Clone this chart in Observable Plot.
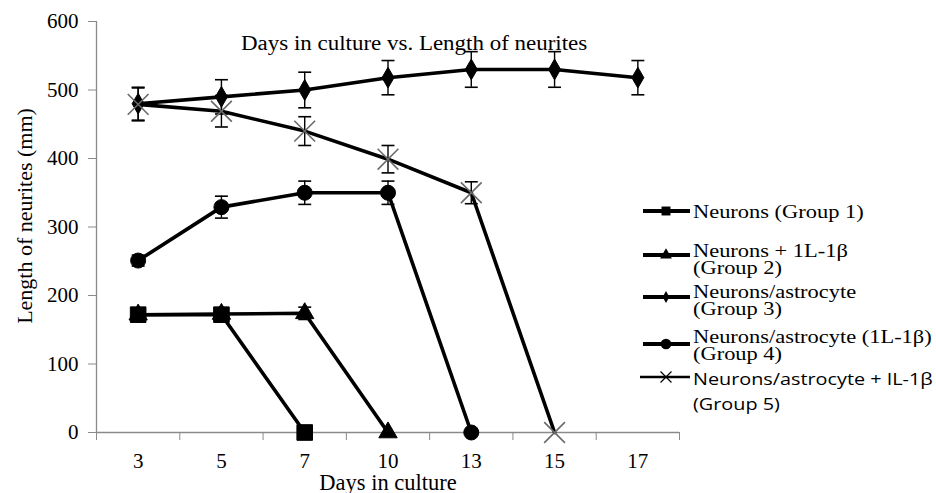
<!DOCTYPE html>
<html>
<head>
<meta charset="utf-8">
<script src="https://cdn.jsdelivr.net/npm/d3@7"></script>
<script src="https://cdn.jsdelivr.net/npm/@observablehq/plot@0.6"></script>
<style>
  html, body { margin: 0; padding: 0; background: #fff; }
  #wrap { position: relative; width: 936px; height: 493px; overflow: hidden; font-family: 'Liberation Serif', 'Times New Roman', serif; }
  #title { position: absolute; left: 241px; top: 31px; font-family: 'Liberation Serif', serif; font-size: 20.5px; line-height: 24px; color: #000; white-space: nowrap; transform: scaleX(1.12); transform-origin: left center; }
  .lg { position: absolute; left: 640px; display: flex; align-items: flex-start; color: #000; }
  .lg svg { flex: none; }
  .lg .t { font-family: 'Liberation Serif', serif; font-size: 19.5px; line-height: 17px; white-space: nowrap; margin-left: 1px; transform: scaleX(1.15); transform-origin: left top; }
  .lg .s { font-family: 'Open Sans', 'DejaVu Sans', sans-serif; font-size: 16.5px; line-height: 25px; transform: scaleX(1.2); }
</style>
</head>
<body>
<div id="wrap"></div>
<script>
const days = ["3", "5", "7", "10", "13", "15", "17"];
const seriesNames = [
  "Neurons (Group 1)",
  "Neurons + 1L-1β (Group 2)",
  "Neurons/astrocyte (Group 3)",
  "Neurons/astrocyte (1L-1β) (Group 4)",
  "Neurons/astrocyte + IL-1β (Group 5)"
];
const group1 = [172, 172, 0, null, null, null, null];
const group2 = [172, 173, 174, 0, null, null, null];
const group3 = [480, 490, 500, 518, 530, 530, 518];
const group4 = [251, 329, 350, 350, 0, null, null];
const group5 = [479, 469, 440, 399, 350, 0, null];
const err1 = [0, 0, 0, 0, 0, 0, 0];
const err2 = [0, 0, 9, 0, 0, 0, 0];
const err3 = [24, 25, 26, 25, 26, 26, 25];
const err4 = [8, 16, 17, 17, 0, 0, 0];
const err5 = [24, 23, 21, 20, 16, 0, 0];
const yTicks = [0, 100, 200, 300, 400, 500, 600];

const values = [group1, group2, group3, group4, group5];
const errs = [err1, err2, err3, err4, err5];
const symbols = ["square", "triangle", "diamond", "circle", "times"];
const radii = [8.8, 6.8, 6.3, 7.5, 9.5];
const drawOrder = [1, 0, 3, 2, 4];

const rows = [];
values.forEach((vals, s) => {
  vals.forEach((v, i) => {
    if (v != null) rows.push({series: seriesNames[s], s, x: i + 0.5, y: v, err: errs[s][i]});
  });
});
const errRows = rows.filter(d => d.err > 0);

const capSymbol = {
  draw(context, size) {
    const w = Math.sqrt(size) / 2;
    context.moveTo(-w, 0);
    context.lineTo(w, 0);
  }
};

const dotMarks = drawOrder.map(s => {
  const sym = symbols[s];
  const data = rows.filter(d => d.s === s);
  if (sym === "times") {
    return Plot.dot(data, {x: "x", y: "y", symbol: sym, r: radii[s], stroke: "#6a6a6a", strokeWidth: 1.6, fill: "none"});
  }
  return Plot.dot(data, {x: "x", y: "y", symbol: sym, r: radii[s], fill: "#000", stroke: "#000", strokeWidth: 1});
});

const FONT = "'Liberation Serif', 'Times New Roman', serif";

const chart = Plot.plot({
  width: 936,
  height: 493,
  marginLeft: 96,
  marginRight: 257,
  marginTop: 21,
  marginBottom: 61,
  style: {fontFamily: FONT, fontSize: "20px", color: "#000", background: "#fff"},
  x: {type: "linear", domain: [0, days.length]},
  y: {domain: [0, 600]},
  marks: [
    Plot.ruleX([0], {stroke: "#8a8a8a", strokeWidth: 1.3}),
    Plot.ruleY([0], {stroke: "#8a8a8a", strokeWidth: 1.3}),
    Plot.axisY({ticks: yTicks, tickSize: 8, tickPadding: 10, stroke: "#8a8a8a", tickFormat: d => String(d), label: null, fontSize: 21, fontFamily: FONT}),
    Plot.axisX({ticks: d3.range(0, days.length + 1), tickSize: 8, stroke: "#8a8a8a", tickFormat: () => "", label: null}),
    Plot.axisX({ticks: days.map((d, i) => i + 0.5), tickSize: 0, tickPadding: 21, tickFormat: v => days[Math.round(v - 0.5)], label: null, fontSize: 21, fontFamily: FONT}),
    Plot.text(["Days in culture"], {frameAnchor: "bottom", dy: 57, fontSize: 22.5, fontFamily: FONT, lineAnchor: "bottom", text: d => d}),
    Plot.text(["Length of neurites (mm)"], {frameAnchor: "left", textAnchor: "middle", dx: -72, dy: -11, rotate: -90, fontSize: 22, fontFamily: FONT, text: d => d}),
    Plot.ruleX(errRows, {x: "x", y1: d => d.y - d.err, y2: d => d.y + d.err, stroke: "#000", strokeWidth: 1.4}),
    Plot.dot(errRows, {x: "x", y: d => d.y - d.err, symbol: capSymbol, r: 7.3, stroke: "#000", strokeWidth: 1.6, fill: "none"}),
    Plot.dot(errRows, {x: "x", y: d => d.y + d.err, symbol: capSymbol, r: 7.3, stroke: "#000", strokeWidth: 1.6, fill: "none"}),
    Plot.line(rows, {x: "x", y: "y", z: "series", stroke: "#000", strokeWidth: 3.6}),
    ...dotMarks
  ]
});

const wrap = document.getElementById("wrap");
wrap.appendChild(chart);

const title = document.createElement("div");
title.id = "title";
title.textContent = "Days in culture vs. Length of neurites";
wrap.appendChild(title);

// Legend
const legendLines = [
  ["Neurons (Group 1)"],
  ["Neurons + 1L-1β", "(Group 2)"],
  ["Neurons/astrocyte", "(Group 3)"],
  ["Neurons/astrocyte (1L-1β)", "(Group 4)"],
  ["Neurons/astrocyte + IL-1β", "(Group 5)"]
];
const legendTop = [203, 242, 283, 328, 366];
const lineY = [8, 13, 14, 16, 11];
legendLines.forEach((lines, s) => {
  const div = document.createElement("div");
  div.className = "lg";
  div.style.top = legendTop[s] + "px";
  const sw = d3.create("svg").attr("width", 52).attr("height", 30);
  const cy = lineY[s];
  sw.append("line").attr("x1", s === 4 ? 0 : 3).attr("x2", 50).attr("y1", cy).attr("y2", cy)
    .attr("stroke", "#000").attr("stroke-width", s === 4 ? 2.6 : 4);
  const sizes = [80, 60, 40, 90, 80];
  const sym = [d3.symbolSquare, d3.symbolTriangle, d3.symbolDiamond, d3.symbolCircle, d3.symbolTimes][s];
  const p = sw.append("path").attr("d", d3.symbol(sym, sizes[s])()).attr("transform", `translate(26,${cy})`);
  if (s === 4) p.attr("fill", "none").attr("stroke", "#000").attr("stroke-width", 1.2);
  else p.attr("fill", "#000");
  div.appendChild(sw.node());
  const t = document.createElement("div");
  t.className = "t" + (s === 4 ? " s" : "");
  t.innerHTML = lines.join("<br>");
  div.appendChild(t);
  wrap.appendChild(div);
});
</script>
</body>
</html>
